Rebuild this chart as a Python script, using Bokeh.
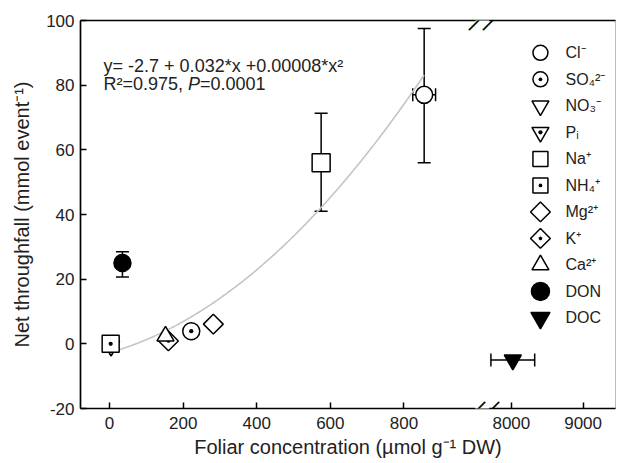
import numpy as np
from bokeh.plotting import figure
from bokeh.models import (ColumnDataSource, Whisker, TeeHead, Label, FixedTicker,
                          LinearAxis, Range1d)
from bokeh.core.properties import value
from bokeh.embed import file_html
from bokeh.resources import INLINE

# ---------------- data ----------------
ions = ["Cl⁻", "SO₄²⁻", "NO₃⁻", "Pᵢ", "Na⁺", "NH₄⁺", "Mg²⁺", "K⁺", "Ca²⁺", "DON", "DOC"]
foliar = [855, 222, 4, 4, 575, 3, 282, 160, 152, 35, 8020]
throughfall = [77, 3.9, -0.7, -0.7, 56, 0, 6.1, 0.9, 2.4, 25, -5]

yerr_ions = ["Cl⁻", "Na⁺", "DON"]
yerr_x = [855, 575, 35]
yerr_lo = [56, 41, 20.7]
yerr_hi = [97.5, 71.3, 28.5]

xerr_ions = ["Cl⁻", "DOC"]
xerr_y = [77, -5]
xerr_lo = [824, 7715]
xerr_hi = [886, 8325]

fit_coef = [-2.7, 0.032, 0.00008]
fit_span = [20, 855]

x_ticks_low = [0, 200, 400, 600, 800]
x_ticks_high = [8000, 9000]
y_ticks = [-20, 0, 20, 40, 60, 80, 100]

# broken x-axis mapping (low segment unchanged, high segment compressed)
BREAK_AT = 4000.0
HIGH_ORIGIN = 8000.0
HIGH_POS = 1092.0
HIGH_SCALE = 0.195


def tx(v):
    v = np.asarray(v, dtype=float)
    return np.where(v < BREAK_AT, v, HIGH_POS + (v - HIGH_ORIGIN) * HIGH_SCALE)


FONT = "Liberation Sans"
TXT = "#222222"

p = figure(width=617, height=463, x_range=Range1d(-79, 1375), y_range=Range1d(-20, 100),
           output_backend="svg", toolbar_location=None,
           min_border_left=80, min_border_right=2, min_border_top=20, min_border_bottom=55)
p.xgrid.grid_line_color = None
p.ygrid.grid_line_color = None
p.outline_line_color = "#bbbbbb"
p.outline_line_width = 1
p.background_fill_color = "white"
p.border_fill_color = "white"

xt = [float(v) for v in tx(x_ticks_low + x_ticks_high)]
xlabels = [str(v) for v in x_ticks_low + x_ticks_high]
p.xaxis.ticker = FixedTicker(ticks=xt)
p.xaxis.major_label_overrides = {k: lab for k, lab in zip(xt, xlabels)}
p.yaxis.ticker = FixedTicker(ticks=y_ticks)
p.yaxis.major_label_overrides = {v: str(v) for v in y_ticks}

for ax in (p.xaxis[0], p.yaxis[0]):
    ax.axis_line_width = 1.7
    ax.axis_line_color = "black"
    ax.major_tick_in = 6
    ax.major_tick_out = 0
    ax.major_tick_line_width = 1.5
    ax.major_tick_line_color = "black"
    ax.minor_tick_line_color = None
    ax.major_label_text_font = FONT
    ax.major_label_text_font_size = "17px"
    ax.major_label_text_color = TXT
    ax.axis_label_text_font = FONT
    ax.axis_label_text_font_size = "20px"
    ax.axis_label_text_font_style = "normal"
    ax.axis_label_text_color = TXT

p.xaxis.axis_label = "Foliar concentration (µmol g⁻¹ DW)"
p.yaxis.axis_label = "Net throughfall (mmol event⁻¹)"
p.xaxis.major_label_standoff = 8
p.xaxis.axis_label_standoff = 4
p.yaxis.major_label_standoff = 6
p.yaxis.axis_label_standoff = 10

top = LinearAxis(ticker=FixedTicker(ticks=[]), axis_line_width=1.7, axis_line_color="black",
                 major_tick_line_color=None, minor_tick_line_color=None)
p.add_layout(top, "above")

# fitted curve (from the printed regression equation)
cx = np.linspace(fit_span[0], fit_span[1], 200)
cy = fit_coef[0] + fit_coef[1] * cx + fit_coef[2] * cx ** 2
p.line(tx(cx), cy, line_color="#c4c4c4", line_width=1.6)

# error bars (behind the markers)
ysrc = ColumnDataSource(dict(x=tx(yerr_x), lo=yerr_lo, hi=yerr_hi))
p.add_layout(Whisker(source=ysrc, base="x", lower="lo", upper="hi", dimension="height",
                     line_color="black", line_width=1.5, level="underlay",
                     upper_head=TeeHead(size=13, line_width=1.5, line_color="black"),
                     lower_head=TeeHead(size=13, line_width=1.5, line_color="black")))
xsrc = ColumnDataSource(dict(y=xerr_y, lo=tx(xerr_lo), hi=tx(xerr_hi)))
p.add_layout(Whisker(source=xsrc, base="y", lower="lo", upper="hi", dimension="width",
                     line_color="black", line_width=1.5, level="underlay",
                     upper_head=TeeHead(size=13, line_width=1.5, line_color="black"),
                     lower_head=TeeHead(size=13, line_width=1.5, line_color="black")))

# marker style per ion: (marker, fill, data size, legend size, angle, extra dot)
DIAM = np.pi / 4
styles = {
    "Cl⁻": ("circle", "white", 17, 15, 0, False),
    "SO₄²⁻": ("circle_dot", "white", 17, 15, 0, False),
    "NO₃⁻": ("inverted_triangle", "white", 17, 17, 0, False),
    "Pᵢ": ("inverted_triangle", "white", 17, 17, 0, True),
    "Na⁺": ("square", "white", 18, 15, 0, False),
    "NH₄⁺": ("square_dot", "white", 17, 15, 0, False),
    "Mg²⁺": ("square", "white", 14, 14, DIAM, False),
    "K⁺": ("square_dot", "white", 14, 14, DIAM, False),
    "Ca²⁺": ("triangle", "white", 17, 17, 0, False),
    "DON": ("circle", "black", 17, 18, 0, False),
    "DOC": ("inverted_triangle", "black", 17, 19, 0, False),
}

draw_order = ["NO₃⁻", "Pᵢ", "NH₄⁺", "K⁺", "Ca²⁺", "SO₄²⁻", "Mg²⁺", "Na⁺", "Cl⁻", "DON", "DOC"]
for ion in draw_order:
    i = ions.index(ion)
    m, fill, sz, lsz, ang, dot = styles[ion]
    src = ColumnDataSource(dict(x=tx([foliar[i]]), y=[throughfall[i]]))
    p.scatter("x", "y", source=src, marker=m, size=sz, angle=ang,
              fill_color=fill, line_color="black", line_width=1.5)
    if dot:
        p.scatter("x", "y", source=src, marker="dot", size=sz, line_color="black",
                  fill_color="black")

# legend (drawn as a column of markers and labels inside the plot frame)
LEG_X = 1171.0
LEG_TEXT_X = 1239.0
LEG_TOP = 90.0
LEG_STEP = 8.2
for k, ion in enumerate(ions):
    m, fill, sz, lsz, ang, dot = styles[ion]
    ly = LEG_TOP - k * LEG_STEP
    src = ColumnDataSource(dict(x=[LEG_X], y=[ly], t=[ion], tx=[LEG_TEXT_X]))
    p.scatter("x", "y", source=src, marker=m, size=lsz, angle=ang,
              fill_color=fill, line_color="black", line_width=1.5)
    if dot:
        p.scatter("x", "y", source=src, marker="dot", size=lsz, line_color="black",
                  fill_color="black")
    p.text("tx", "y", text="t", source=src, text_font=value(FONT), text_font_size="16px",
           text_color=TXT, text_baseline="middle", text_align="left")

# equation text
eq_kw = dict(text_font=FONT, text_font_size="18px", text_color=TXT,
             text_baseline="alphabetic", text_align="left")
p.add_layout(Label(x=-16.3, y=85.8, text="y= -2.7 + 0.032*x +0.00008*x²", **eq_kw))
p.add_layout(Label(x=-16.3, y=80.5, text="R²=0.975, ", **eq_kw))
p.add_layout(Label(x=213.3, y=80.5, text="P", text_font_style="italic", **eq_kw))
p.add_layout(Label(x=245.9, y=80.5, text="=0.0001", **eq_kw))

# axis break marks
for yb in (-20, 100):
    p.add_layout(Label(x=1013, y=yb, text="\u00a0\u00a0\u00a0\u00a0\u00a0", text_font_size="10px",
                       text_align="center", text_baseline="middle",
                       background_fill_color="white", text_color="white"))
    for xb in (994.6, 1032.6):
        p.add_layout(Label(x=xb, y=yb, text="—", text_font=FONT, text_font_size="23px",
                           text_align="center", text_baseline="middle", angle=np.pi / 4,
                           text_color="black"))

open("out.html", "w").write(file_html(p, INLINE))
